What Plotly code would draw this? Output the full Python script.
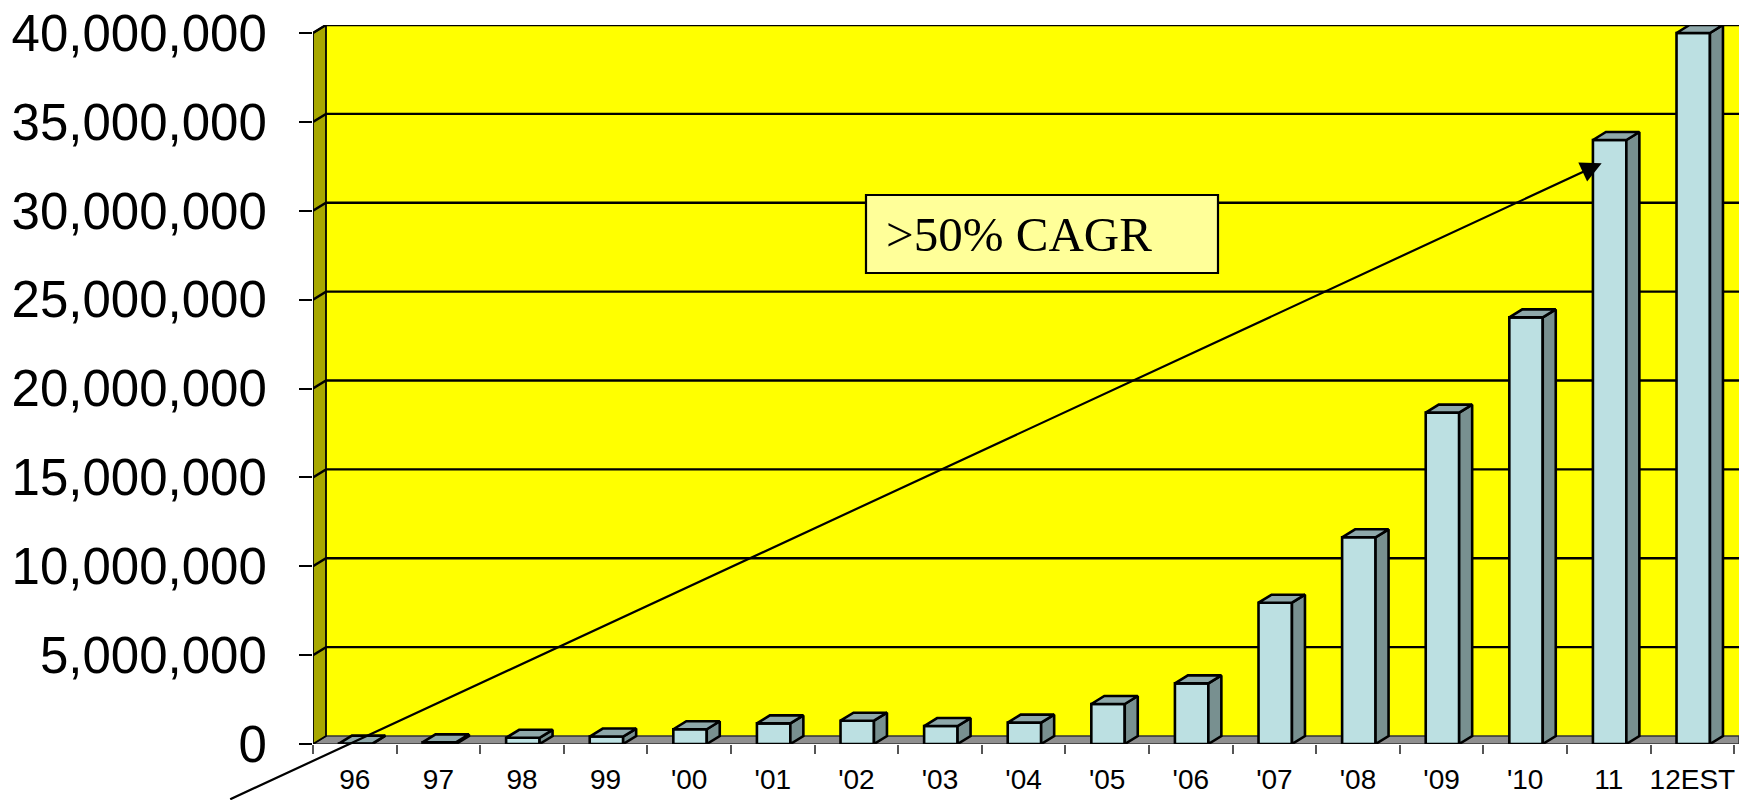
import plotly.graph_objects as go

# ---------------- data ----------------
categories = ["96", "97", "98", "99", "'00", "'01", "'02", "'03", "'04", "'05",
              "'06", "'07", "'08", "'09", "'10", "11", "12EST"]
values = [20000, 90000, 350000, 420000, 830000, 1160000, 1310000, 1010000,
          1200000, 2250000, 3410000, 7950000, 11630000, 18640000, 24000000,
          33980000, 40000000]
y_ticks = [0, 5000000, 10000000, 15000000, 20000000, 25000000, 30000000,
           35000000, 40000000]
y_tick_labels = [f"{v:,}" for v in y_ticks]
annotation_text = ">50% CAGR"

# ---------------- geometry (3D look) ----------------
PLOT_W, PLOT_H = 1426, 719
PX_PER_CAT = 83.6
PX_PER_Y = 711 / y_ticks[-1]
DX = 13 / PX_PER_CAT          # depth offset in category units
DY = 8 / PX_PER_Y             # depth offset in value units
X_MIN = -0.5
X_MAX = X_MIN + PLOT_W / PX_PER_CAT
Y_MAX = y_ticks[-1] + DY
BAR_OFF, BAR_W = -0.19, 0.40

xs = list(range(len(categories)))

fig = go.Figure()

# front faces
fig.add_trace(go.Bar(
    x=xs, y=values, width=BAR_W, offset=BAR_OFF,
    marker=dict(color="#BCE0E2", line=dict(color="black", width=2.6)),
    hoverinfo="skip"))

# side faces & top faces from the same values
sx, sy, tx, ty = [], [], [], []
for i, v in zip(xs, values):
    xl = i + BAR_OFF
    xr = xl + BAR_W
    sx += [xr, xr + DX, xr + DX, xr, xr, None]
    sy += [0, DY, v + DY, v, 0, None]
    tx += [xl, xl + DX, xr + DX, xr, xl, None]
    ty += [v, v + DY, v + DY, v, v, None]

fig.add_trace(go.Scatter(x=sx, y=sy, mode="lines", fill="toself",
                         fillcolor="#789090",
                         line=dict(color="black", width=2.6, shape="linear"),
                         hoverinfo="skip"))
fig.add_trace(go.Scatter(x=tx, y=ty, mode="lines", fill="toself",
                         fillcolor="#8EA8AA",
                         line=dict(color="black", width=2.6, shape="linear"),
                         hoverinfo="skip"))

shapes = []
# back wall
shapes.append(dict(type="rect", xref="x", yref="y", x0=X_MIN + DX, x1=X_MAX,
                   y0=DY, y1=Y_MAX, fillcolor="#FFFF00", line=dict(width=0),
                   layer="below"))
# floor
shapes.append(dict(type="path", xref="x", yref="y",
                   path=f"M {X_MIN},0 L {X_MIN + DX},{DY} L {X_MAX},{DY} L {X_MAX},0 Z",
                   fillcolor="#8F8F8F", line=dict(color="#333333", width=1.5),
                   layer="below"))
# side wall
shapes.append(dict(type="path", xref="x", yref="y",
                   path=f"M {X_MIN},0 L {X_MIN},{y_ticks[-1]} L {X_MIN + DX},{Y_MAX} "
                        f"L {X_MIN + DX},{DY} Z",
                   fillcolor="#A8A800", line=dict(color="black", width=1.8),
                   layer="below"))
# gridlines on side wall + back wall
for v in y_ticks[1:]:
    shapes.append(dict(type="path", xref="x", yref="y",
                       path=f"M {X_MIN},{v} L {X_MIN + DX},{v + DY} L {X_MAX},{v + DY}",
                       line=dict(color="black", width=2.4), layer="below"))


def px_to_paper_x(px):
    return (px - 313) / PLOT_W


def px_to_paper_y(py):
    return (744 - py) / PLOT_H


# CAGR box
shapes.append(dict(type="rect", xref="paper", yref="paper",
                   x0=px_to_paper_x(866), x1=px_to_paper_x(1218),
                   y0=px_to_paper_y(273), y1=px_to_paper_y(195),
                   fillcolor="#FFFF99", line=dict(color="black", width=2.2),
                   layer="above"))

annotations = [
    dict(xref="paper", yref="paper", x=px_to_paper_x(884), y=px_to_paper_y(234),
         xanchor="left", yanchor="middle", text=annotation_text, showarrow=False,
         font=dict(family="Liberation Serif, Times New Roman, serif", size=49,
                   color="black")),
    dict(xref="x", yref="y", x=14.915, y=32.67e6, text="", showarrow=True,
         ax=-1373, ay=637, axref="pixel", ayref="pixel",
         arrowhead=2, arrowsize=1.9, arrowwidth=2.2, arrowcolor="black",
         standoff=0),
]

fig.update_layout(
    width=1739, height=800,
    margin=dict(l=313, r=0, t=25, b=56, pad=0),
    paper_bgcolor="white", plot_bgcolor="white",
    showlegend=False,
    shapes=shapes, annotations=annotations,
    xaxis=dict(range=[X_MIN, X_MAX], tickmode="array", tickvals=xs,
               ticktext=categories, ticks="", showgrid=False, zeroline=False,
               showline=False, fixedrange=True,
               tickfont=dict(family="Arial, Liberation Sans, sans-serif", size=28,
                             color="black"),
               ticklabelstandoff=16,
               minor=dict(tickmode="array",
                          tickvals=[i - 0.5 for i in xs] + [xs[-1] + 0.5],
                          ticks="outside", ticklen=9, tickwidth=1.5,
                          tickcolor="#555555", showgrid=False)),
    yaxis=dict(range=[0, Y_MAX], tickmode="array", tickvals=y_ticks,
               ticktext=y_tick_labels, ticks="outside", ticklen=13, tickwidth=1.5,
               tickcolor="black", showgrid=False, zeroline=False, showline=False,
               fixedrange=True, ticklabelstandoff=22,
               tickfont=dict(family="Arial, Liberation Sans, sans-serif", size=51,
                             color="black")),
)

fig.write_html("out.html")
